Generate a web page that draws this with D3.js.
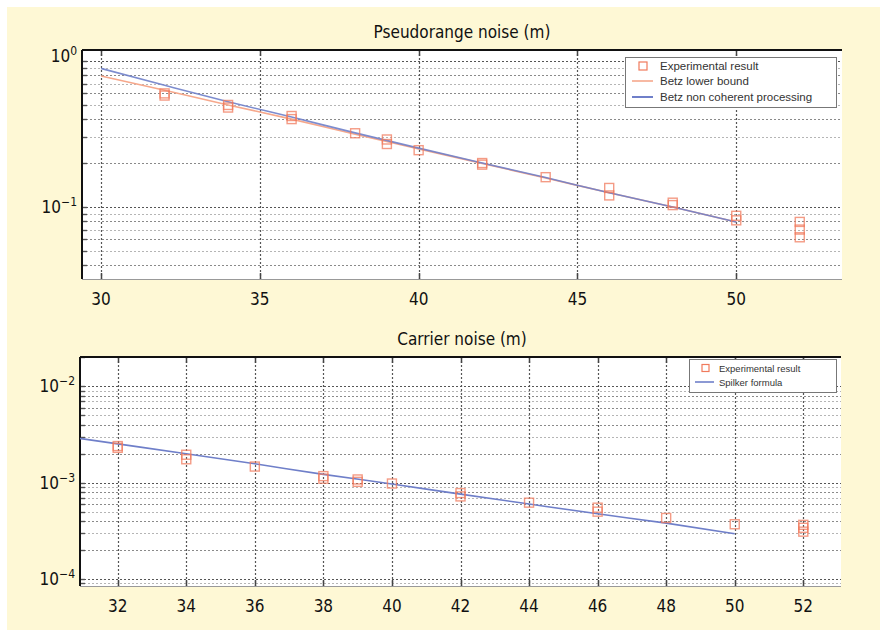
<!DOCTYPE html>
<html>
<head>
<meta charset="utf-8">
<script src="https://cdn.jsdelivr.net/npm/d3@7"></script>
<style>
  html, body { margin: 0; padding: 0; background: #ffffff; }
  svg { display: block; }
</style>
</head>
<body>
<svg id="chart" width="880" height="635"></svg>
<script>
// ---------- DATA ----------
// Pseudorange noise (m) — top panel
const prTitle = "Pseudorange noise (m)";
const prXTicks = [30, 35, 40, 45, 50];
const prYTickExps = [0, -1];
const prExpX = [32, 32, 34, 34, 36, 36, 38, 39, 39, 40, 42, 42, 44, 46, 46, 48, 48, 50, 50, 52, 52, 52];
const prExpY = [0.60, 0.58, 0.50, 0.48, 0.42, 0.40, 0.32, 0.29, 0.27, 0.245, 0.20, 0.195, 0.16, 0.135, 0.12, 0.107, 0.103, 0.087, 0.081, 0.079, 0.070, 0.062];
const betzX = [30, 32, 34, 36, 38, 40, 42, 44, 46, 48, 50];
const betzLower = [0.79, 0.63, 0.50, 0.40, 0.315, 0.25, 0.199, 0.158, 0.125, 0.100, 0.079];
const betzNonCoh = [0.89, 0.682, 0.526, 0.413, 0.322, 0.253, 0.200, 0.159, 0.125, 0.100, 0.079];
const prLegend = ["Experimental result", "Betz lower bound", "Betz non coherent processing"];

// Carrier noise (m) — bottom panel
const crTitle = "Carrier noise (m)";
const crXTicks = [32, 34, 36, 38, 40, 42, 44, 46, 48, 50, 52];
const crYTickExps = [-2, -3, -4];
const crExpX = [32, 32, 34, 34, 36, 38, 38, 39, 39, 40, 42, 42, 44, 46, 46, 48, 50, 52, 52, 52];
const crExpY = [2.4e-3, 2.3e-3, 1.95e-3, 1.75e-3, 1.47e-3, 1.17e-3, 1.10e-3, 1.08e-3, 1.02e-3, 9.8e-4, 7.8e-4, 7.2e-4, 6.2e-4, 5.5e-4, 5.0e-4, 4.3e-4, 3.7e-4, 3.65e-4, 3.4e-4, 3.1e-4];
const spilkerX = [30, 32, 34, 36, 38, 40, 42, 44, 46, 48, 50];
const spilkerY = [3.2e-3, 2.53e-3, 2.0e-3, 1.57e-3, 1.22e-3, 9.7e-4, 7.6e-4, 6.0e-4, 4.75e-4, 3.8e-4, 2.95e-4];
const crLegend = ["Experimental result", "Spilker formula"];

// ---------- STYLE ----------
const BG = "#fef8d5";
const FONT = "'DejaVu Sans Condensed', 'DejaVu Sans', sans-serif";
const LEGFONT = "'Liberation Sans', Arial, sans-serif";
const SQ = "#f07a5c";
const ORANGE = "#f6a88c";
const BLUE = "#6f7fc9";

const svg = d3.select("#chart");
svg.append("rect").attr("x", 7).attr("y", 7).attr("width", 873).attr("height", 623).attr("fill", BG);

function panel(cfg) {
  const g = svg.append("g");
  const {x, y, left, right, top, bottom} = cfg;
  const clipId = "clip" + cfg.id;
  svg.append("clipPath").attr("id", clipId)
    .append("rect").attr("x", left).attr("y", top).attr("width", right - left).attr("height", bottom - top);

  g.append("rect").attr("x", left).attr("y", top).attr("width", right - left).attr("height", bottom - top).attr("fill", "#fff");

  // horizontal grid (log minor + major)
  const yt = y.ticks();
  const grid = g.append("g").attr("clip-path", `url(#${clipId})`);
  grid.selectAll("line.h").data(yt).join("line")
    .attr("x1", left).attr("x2", right)
    .attr("y1", d => Math.round(y(d)) + 0.5).attr("y2", d => Math.round(y(d)) + 0.5)
    .attr("stroke", (d, i) => {
      const m = Math.round(d / Math.pow(10, Math.floor(Math.log10(d) + 1e-9)));
      if (m === 1) return "#555";
      return (m % 2 === 0) ? "#8a8a8a" : "#b5b5b5";
    })
    .attr("stroke-width", 1.2)
    .attr("stroke-dasharray", "2,2");
  // vertical grid
  grid.selectAll("line.v").data(cfg.xTicks).join("line")
    .attr("x1", d => Math.round(x(d)) + 0.5).attr("x2", d => Math.round(x(d)) + 0.5)
    .attr("y1", top).attr("y2", bottom)
    .attr("stroke", "#555").attr("stroke-width", 1.2).attr("stroke-dasharray", "2,2");
  // tick marks inside
  g.selectAll("line.tb").data(cfg.xTicks).join("line")
    .attr("x1", d => Math.round(x(d)) + 0.5).attr("x2", d => Math.round(x(d)) + 0.5)
    .attr("y1", bottom).attr("y2", bottom - 6).attr("stroke", "#444").attr("stroke-width", 1.5);
  g.selectAll("line.tt").data(cfg.xTicks).join("line")
    .attr("x1", d => Math.round(x(d)) + 0.5).attr("x2", d => Math.round(x(d)) + 0.5)
    .attr("y1", top).attr("y2", top + 6).attr("stroke", "#444").attr("stroke-width", 1.5);
  g.selectAll("line.tl").data(yt).join("line")
    .attr("x1", left).attr("x2", left + 5)
    .attr("y1", d => Math.round(y(d)) + 0.5).attr("y2", d => Math.round(y(d)) + 0.5)
    .attr("stroke", "#555").attr("stroke-width", 1.4);

  // frame: top and left dark, bottom light
  g.append("line").attr("x1", left).attr("x2", right).attr("y1", top).attr("y2", top).attr("stroke", "#111").attr("stroke-width", 2);
  g.append("line").attr("x1", left).attr("x2", left).attr("y1", top).attr("y2", bottom).attr("stroke", "#111").attr("stroke-width", 2);
  g.append("line").attr("x1", left).attr("x2", right).attr("y1", bottom + 0.5).attr("y2", bottom + 0.5).attr("stroke", "#999").attr("stroke-width", 1);

  // x tick labels
  g.selectAll("text.xl").data(cfg.xTicks).join("text")
    .attr("x", d => x(d)).attr("y", bottom + 26)
    .attr("text-anchor", "middle").attr("font-family", FONT).attr("font-size", 17).attr("fill", "#111")
    .text(d => d);
  // y tick labels 10^k
  cfg.yExps.forEach(e => {
    const t = g.append("text").attr("x", left - 5).attr("y", y(Math.pow(10, e)) + 6 + (cfg.yLabelShift ? cfg.yLabelShift(e) : 0))
      .attr("text-anchor", "end").attr("font-family", FONT).attr("font-size", 17).attr("fill", "#111");
    t.append("tspan").text("10");
    t.append("tspan").attr("dy", -7).attr("font-size", 12).text(String(e).replace("-", "\u2212"));
  });
  // title
  g.append("text").attr("x", cfg.titleX).attr("y", top - 12)
    .attr("text-anchor", "middle").attr("font-family", FONT).attr("font-size", 17).attr("fill", "#111")
    .text(cfg.title);

  const plot = g.append("g").attr("clip-path", `url(#${clipId})`);
  return plot;
}

// ---------- TOP PANEL ----------
const x1 = d3.scaleLinear().domain([29.4, 53.33]).range([82, 842]);
const y1 = d3.scaleLog().domain([0.0321, 1.19]).range([279, 50]);
const p1 = panel({id: 1, x: x1, y: y1, left: 82, right: 842, top: 50, bottom: 279,
  xTicks: prXTicks, yExps: prYTickExps, title: prTitle, titleX: 462,
  yLabelShift: e => (e === 0 ? -5 : 0)});

const line1 = d3.line().x(d => x1(d[0])).y(d => y1(d[1])).curve(d3.curveMonotoneX);
p1.append("path").datum(betzX.map((v, i) => [v, betzLower[i]]))
  .attr("d", line1).attr("fill", "none").attr("stroke", ORANGE).attr("stroke-width", 1.6);
p1.append("path").datum(betzX.map((v, i) => [v, betzNonCoh[i]]))
  .attr("d", line1).attr("fill", "none").attr("stroke", BLUE).attr("stroke-width", 1.6).attr("opacity", 0.9);
p1.selectAll("rect.m").data(prExpX.map((v, i) => [v, prExpY[i]])).join("rect")
  .attr("x", d => x1(d[0]) - 4.5).attr("y", d => y1(d[1]) - 4.5)
  .attr("width", 9).attr("height", 9).attr("fill", "none").attr("stroke", SQ).attr("stroke-width", 1.4).attr("opacity", 0.75);

// legend top
(function () {
  const lg = svg.append("g");
  lg.append("rect").attr("x", 625.5).attr("y", 57.5).attr("width", 211).attr("height", 50)
    .attr("fill", "#fff").attr("stroke", "#777").attr("stroke-width", 1);
  const rows = [66, 81, 97];
  lg.append("rect").attr("x", 639).attr("y", rows[0] - 4).attr("width", 8).attr("height", 8)
    .attr("fill", "none").attr("stroke", SQ).attr("stroke-width", 1.2);
  lg.append("line").attr("x1", 632).attr("x2", 653).attr("y1", rows[1]).attr("y2", rows[1]).attr("stroke", ORANGE).attr("stroke-width", 1.6);
  lg.append("line").attr("x1", 632).attr("x2", 653).attr("y1", rows[2]).attr("y2", rows[2]).attr("stroke", BLUE).attr("stroke-width", 2);
  prLegend.forEach((t, i) => {
    lg.append("text").attr("x", 660).attr("y", rows[i] + 4).attr("font-family", LEGFONT).attr("font-size", 11.5)
      .attr("fill", "#333").text(t);
  });
})();

// ---------- BOTTOM PANEL ----------
const x2 = d3.scaleLinear().domain([30.9, 53.1]).range([80, 841]);
const y2 = d3.scaleLog().domain([8.45e-5, 0.0202]).range([586, 357]);
const p2 = panel({id: 2, x: x2, y: y2, left: 80, right: 841, top: 357, bottom: 586,
  xTicks: crXTicks, yExps: crYTickExps, title: crTitle, titleX: 462});

const line2 = d3.line().x(d => x2(d[0])).y(d => y2(d[1])).curve(d3.curveMonotoneX);
p2.append("path").datum(spilkerX.map((v, i) => [v, spilkerY[i]]))
  .attr("d", line2).attr("fill", "none").attr("stroke", BLUE).attr("stroke-width", 1.6);
p2.selectAll("rect.m").data(crExpX.map((v, i) => [v, crExpY[i]])).join("rect")
  .attr("x", d => x2(d[0]) - 4.5).attr("y", d => y2(d[1]) - 4.5)
  .attr("width", 9).attr("height", 9).attr("fill", "none").attr("stroke", SQ).attr("stroke-width", 1.4).attr("opacity", 0.75);

// legend bottom
(function () {
  const lg = svg.append("g");
  lg.append("rect").attr("x", 689.5).attr("y", 359.5).attr("width", 147).attr("height", 33)
    .attr("fill", "#fff").attr("stroke", "#777").attr("stroke-width", 1);
  const rows = [368, 382];
  lg.append("rect").attr("x", 702).attr("y", rows[0] - 3.5).attr("width", 7).attr("height", 7)
    .attr("fill", "none").attr("stroke", SQ).attr("stroke-width", 1.2);
  lg.append("line").attr("x1", 695).attr("x2", 714).attr("y1", rows[1]).attr("y2", rows[1]).attr("stroke", BLUE).attr("stroke-width", 1.6);
  crLegend.forEach((t, i) => {
    lg.append("text").attr("x", 719).attr("y", rows[i] + 3.5).attr("font-family", LEGFONT).attr("font-size", 9.5)
      .attr("fill", "#333").text(t);
  });
})();
</script>
</body>
</html>
